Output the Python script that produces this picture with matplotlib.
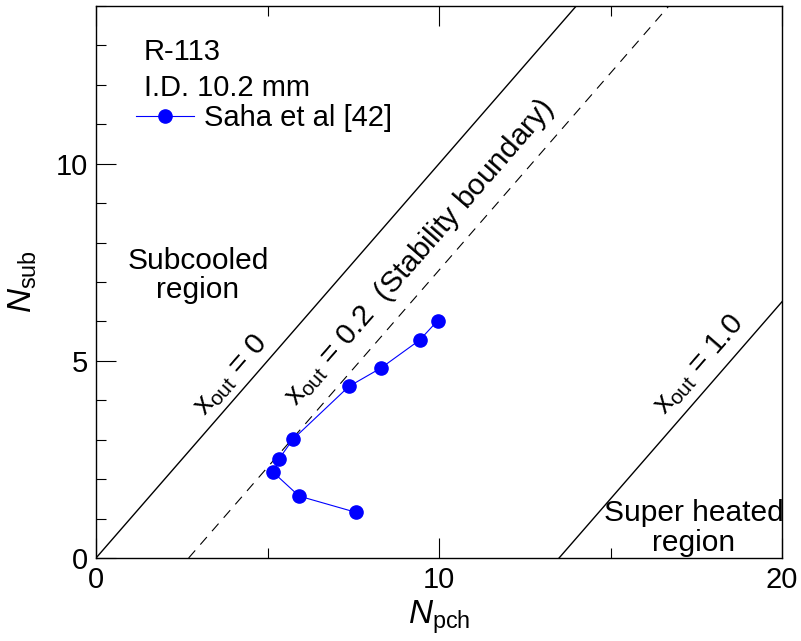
import matplotlib.pyplot as plt
from matplotlib.ticker import MultipleLocator

plt.rcParams['font.family'] = ['Liberation Sans', 'DejaVu Sans']
plt.rcParams['mathtext.fontset'] = 'custom'
plt.rcParams['mathtext.rm'] = 'Liberation Sans'
plt.rcParams['mathtext.it'] = 'Liberation Sans:italic'

# Saha et al [42], R-113, I.D. 10.2 mm
n_pch = [7.57, 5.92, 5.17, 5.34, 5.74, 7.37, 8.31, 9.44, 9.96]
n_sub = [1.16, 1.57, 2.17, 2.52, 3.01, 4.35, 4.82, 5.53, 6.02]

# constant exit-quality lines, end points (N_pch, N_sub)
x0_pch, x0_sub = [0, 14], [0, 14]
x02_pch, x02_sub = [2.7, 16.7], [0, 14]
x10_pch, x10_sub = [13.5, 20], [0, 6.5]

fig = plt.figure(figsize=(8.01, 6.41), dpi=100)
ax = fig.add_axes([0.1199, 0.1295, 0.8564, 0.8611])

ax.plot(x0_pch, x0_sub, color='black', lw=1.0)
ax.plot(x02_pch, x02_sub, color='black', lw=0.8, linestyle=(0, (9, 7)))
ax.plot(x10_pch, x10_sub, color='black', lw=1.0)

ax.plot(n_pch, n_sub, color='blue', lw=0.8, marker='o', markersize=9.5,
        label='Saha et al [42]')

ax.set_xlim(0, 20)
ax.set_ylim(0, 14)
ax.xaxis.set_major_locator(MultipleLocator(10))
ax.xaxis.set_minor_locator(MultipleLocator(5))
ax.yaxis.set_major_locator(MultipleLocator(5))
ax.yaxis.set_minor_locator(MultipleLocator(1))
ax.tick_params(which='both', direction='in', top=True, right=False,
               labelsize=21, width=0.8)
ax.tick_params(which='major', length=14.4, pad=6)
ax.tick_params(which='minor', length=7.2)
for s in ax.spines.values():
    s.set_linewidth(1.0)

ax.set_xlabel(r'$\mathit{N}_{\rm pch}$', fontsize=24, labelpad=3)
ax.set_ylabel(r'$\mathit{N}_{\rm sub}$', fontsize=24, labelpad=12)

fs = 21.5
ang = 49
ax.text(3.94, 4.64, r'x$_{\rm out}$ = 0', fontsize=fs, rotation=ang,
        ha='center', va='center')
ax.text(9.42, 7.74, r'x$_{\rm out}$ = 0.2  (Stability boundary)', fontsize=fs,
        rotation=ang, ha='center', va='center')
ax.text(17.58, 4.90, r'x$_{\rm out}$ = 1.0', fontsize=fs, rotation=ang,
        ha='center', va='center')

ax.text(2.97, 7.16, 'Subcooled\nregion', fontsize=fs, ha='center',
        va='center', linespacing=1.05)
ax.text(17.43, 0.76, 'Super heated\nregion', fontsize=fs, ha='center',
        va='center', linespacing=1.05)

ax.text(1.4, 12.84, 'R-113', fontsize=21, ha='left', va='center')
ax.text(1.4, 11.93, 'I.D. 10.2 mm', fontsize=21, ha='left', va='center')
ax.legend(loc='center left', bbox_to_anchor=(0.0583, 0.797), frameon=False,
          fontsize=21, handlelength=2.0, handletextpad=0.34, borderpad=0,
          borderaxespad=0)

fig.savefig('out.png', dpi=100)
